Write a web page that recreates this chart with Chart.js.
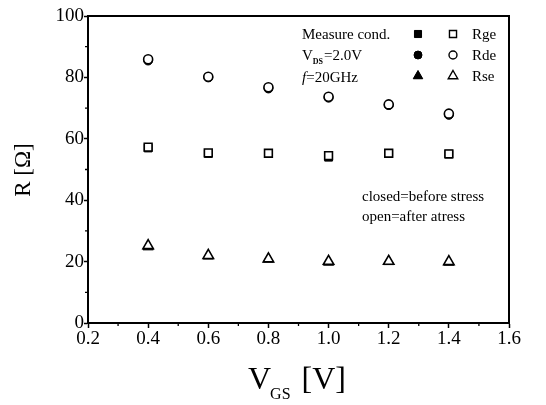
<!DOCTYPE html>
<html>
<head>
<meta charset="utf-8">
<script src="https://cdn.jsdelivr.net/npm/chart.js@4/dist/chart.umd.min.js"></script>
<style>
  html, body { margin: 0; padding: 0; background: #fff; }
  #wrap { width: 546px; height: 405px; }
</style>
</head>
<body>
<div id="wrap"><canvas id="mycanvas" width="546" height="405"></canvas></div>
<script>
// values
var vgs = [0.4, 0.6, 0.8, 1.0, 1.2, 1.4];
var rgeBefore = [57.0, 55.2, 55.2, 54.0, 55.2, 55.0];
var rgeAfter  = [57.3, 55.4, 55.3, 54.5, 55.3, 55.1];
var rdeBefore = [85.5, 80.0, 76.4, 73.4, 71.0, 67.8];
var rdeAfter  = [85.9, 80.2, 76.8, 73.7, 71.2, 68.2];
var rseBefore = [24.8, 21.8, 20.8, 19.8, 20.0, 19.8];
var rseAfter  = [25.2, 22.0, 20.9, 20.1, 20.1, 20.0];
var xTicks = [0.2, 0.4, 0.6, 0.8, 1.0, 1.2, 1.4, 1.6];
var yTicks = [0, 20, 40, 60, 80, 100];
var xMinor = [0.3, 0.5, 0.7, 0.9, 1.1, 1.3, 1.5];
var yMinor = [10, 30, 50, 70, 90];

var serif = "'Liberation Serif', 'Times New Roman', serif";

function pts(ys) {
  var out = [];
  for (var i = 0; i < vgs.length; i++) out.push({x: vgs[i], y: ys[i]});
  return out;
}

function closedSet(label, ys, style, r) {
  return {
    label: label, data: pts(ys), order: 1,
    pointStyle: style, pointRadius: r,
    backgroundColor: '#000', borderColor: '#000', borderWidth: 1,
    showLine: false
  };
}
function openSet(label, ys, style, r) {
  return {
    label: label, data: pts(ys), order: 0,
    pointStyle: style, pointRadius: r,
    backgroundColor: '#fff', borderColor: '#000', borderWidth: 1.6,
    showLine: false
  };
}

var extras = {
  id: 'extras',
  afterDraw: function(chart) {
    var ctx = chart.ctx;
    var a = chart.chartArea;
    var xs = chart.scales.x, ys = chart.scales.y;
    ctx.save();
    ctx.strokeStyle = '#000';
    // frame
    ctx.lineWidth = 2;
    ctx.strokeRect(a.left, a.top, a.right - a.left, a.bottom - a.top);
    // minor ticks
    ctx.lineWidth = 1.3;
    ctx.beginPath();
    xMinor.forEach(function(v) {
      var px = xs.getPixelForValue(v);
      ctx.moveTo(px, a.bottom); ctx.lineTo(px, a.bottom + 3);
    });
    yMinor.forEach(function(v) {
      var py = ys.getPixelForValue(v);
      ctx.moveTo(a.left, py); ctx.lineTo(a.left - 3, py);
    });
    ctx.stroke();

    ctx.fillStyle = '#000';
    // y title
    ctx.save();
    ctx.translate(30, 170);
    ctx.rotate(-Math.PI / 2);
    ctx.font = '23px ' + serif;
    ctx.textAlign = 'center';
    ctx.textBaseline = 'alphabetic';
    ctx.fillText('R [\u03A9]', 0, 0);
    ctx.restore();

    // x title V_GS [V]
    ctx.textAlign = 'left';
    ctx.textBaseline = 'alphabetic';
    ctx.font = '32px ' + serif;
    var x0 = 248;
    ctx.fillText('V', x0, 389);
    var wV = ctx.measureText('V').width;
    ctx.font = '16px ' + serif;
    ctx.fillText('GS', x0 + wV - 1, 399);
    var wGS = ctx.measureText('GS').width;
    ctx.font = '32px ' + serif;
    ctx.fillText(' [V]', x0 + wV + wGS + 2, 389);

    // legend block
    ctx.font = '15px ' + serif;
    ctx.fillText('Measure cond.', 302, 39);
    ctx.fillText('V', 302, 60);
    var wv = ctx.measureText('V').width;
    ctx.font = 'bold 8px ' + serif;
    ctx.fillText('DS', 302 + wv, 64);
    var wds = ctx.measureText('DS').width;
    ctx.font = '15px ' + serif;
    ctx.fillText('=2.0V', 302 + wv + wds + 1, 60);
    ctx.font = 'italic 15px ' + serif;
    ctx.fillText('f', 302, 82);
    var wf = ctx.measureText('f').width;
    ctx.font = '15px ' + serif;
    ctx.fillText('=20GHz', 302 + wf, 82);

    var rows = [
      {y: 34, style: 'rect', r: 5, name: 'Rge'},
      {y: 55, style: 'circle', r: 4, name: 'Rde'},
      {y: 76, style: 'triangle', r: 5.5, name: 'Rse'}
    ];
    rows.forEach(function(row) {
      ctx.fillStyle = '#000';
      ctx.strokeStyle = '#000';
      ctx.lineWidth = 1;
      Chart.helpers.drawPoint(ctx, {pointStyle: row.style, radius: row.r, borderWidth: 1}, 418, row.y);
      ctx.fill();
      ctx.fillStyle = '#fff';
      ctx.lineWidth = 1.4;
      Chart.helpers.drawPoint(ctx, {pointStyle: row.style, radius: row.r, borderWidth: 1.4}, 453, row.y);
      ctx.fillStyle = '#000';
      ctx.fillText(row.name, 472, row.y + 5);
    });

    ctx.fillText('closed=before stress', 362, 201);
    ctx.fillText('open=after atress', 362, 221);
    ctx.restore();
  }
};

var ctx = document.getElementById('mycanvas');
var tickFont = {family: serif, size: 19};

new Chart(ctx, {
  type: 'scatter',
  data: {
    datasets: [
      closedSet('Rge before', rgeBefore, 'rect', 5.5),
      closedSet('Rde before', rdeBefore, 'circle', 4.5),
      closedSet('Rse before', rseBefore, 'triangle', 6),
      openSet('Rge after', rgeAfter, 'rect', 5.5),
      openSet('Rde after', rdeAfter, 'circle', 4.5),
      openSet('Rse after', rseAfter, 'triangle', 6)
    ]
  },
  options: {
    responsive: false,
    animation: false,
    devicePixelRatio: 1,
    layout: {padding: {top: 16, right: 37, left: 0, bottom: 0}},
    plugins: {legend: {display: false}, tooltip: {enabled: false}},
    scales: {
      x: {
        type: 'linear', min: 0.2, max: 1.6,
        afterBuildTicks: function(scale) {
          scale.ticks = xTicks.map(function(v) { return {value: v}; });
        },
        ticks: {
          font: tickFont, color: '#000', padding: 0, maxRotation: 0,
          callback: function(v) { return Number(v).toFixed(1); }
        },
        grid: {drawOnChartArea: false, drawTicks: true, tickLength: 5, tickColor: '#000', tickWidth: 1.5},
        border: {color: '#000', width: 2},
        afterFit: function(scale) { scale.height = 82; }
      },
      y: {
        type: 'linear', min: 0, max: 100,
        afterBuildTicks: function(scale) {
          scale.ticks = yTicks.map(function(v) { return {value: v}; });
        },
        ticks: {font: tickFont, color: '#000', padding: 0},
        grid: {drawOnChartArea: false, drawTicks: true, tickLength: 4, tickColor: '#000', tickWidth: 1.5},
        border: {color: '#000', width: 2},
        afterFit: function(scale) { scale.width = 88; }
      }
    }
  },
  plugins: [extras]
});
</script>
</body>
</html>
